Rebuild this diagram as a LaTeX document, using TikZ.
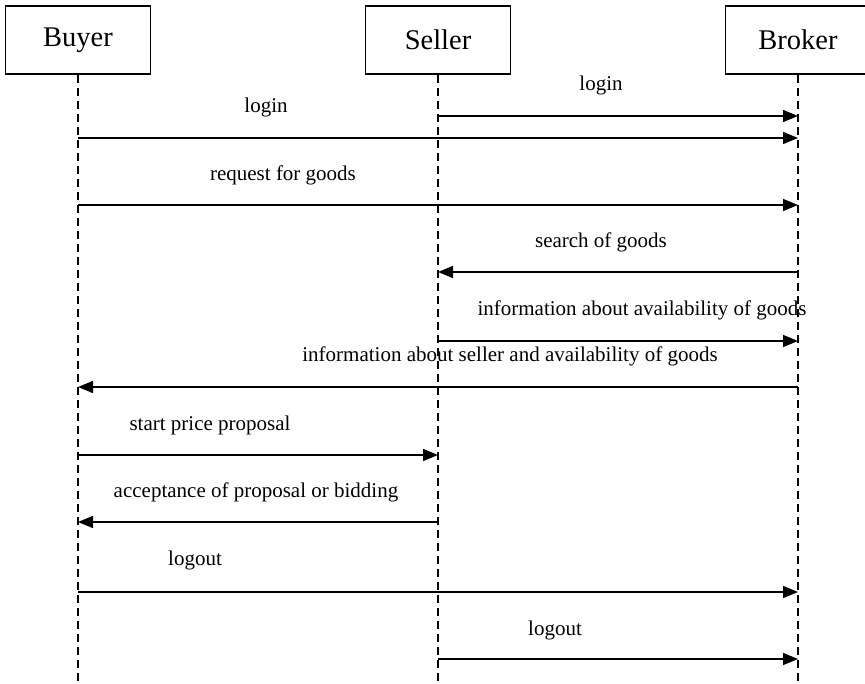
\documentclass[tikz,border=0pt]{standalone}
\usepackage{fontspec}
\setmainfont{Liberation Serif}
\usetikzlibrary{arrows.meta}

\begin{document}
\begin{tikzpicture}[x=1pt,y=-1pt,
  actor/.style={draw,line width=1.2pt,minimum width=145pt,minimum height=68pt,inner sep=0pt,font=\fontsize{28.5}{30}\selectfont},
  life/.style={dash pattern=on 8pt off 5pt,line width=1.1pt},
  msg/.style={-{Triangle[length=15pt,width=12pt]},line width=1.4pt},
  lbl/.style={inner sep=0pt,font=\fontsize{21}{24}\selectfont}]
\useasboundingbox (0,0) rectangle (865,684);
\node[actor] (buyer) at (78,40) {Buyer};
\node[actor] (seller) at (438,40) {Seller};
\node[actor] (broker) at (798,40) {Broker};
\coordinate (bottom) at (0,684);

% lifelines
\draw[life] (buyer.south) -- (buyer.south |- bottom);
\draw[life] (seller.south) -- (seller.south |- bottom);
\draw[life] (broker.south) -- (broker.south |- bottom);

% message rows
\coordinate (r1) at (0,116);
\coordinate (r2) at (0,138);
\coordinate (r3) at (0,205);
\coordinate (r4) at (0,272);
\coordinate (r5) at (0,341);
\coordinate (r6) at (0,387);
\coordinate (r7) at (0,455);
\coordinate (r8) at (0,522);
\coordinate (r9) at (0,592);
\coordinate (r10) at (0,659);

\draw[msg] (seller |- r1) -- (broker |- r1);
\draw[msg] (buyer |- r2) -- (broker |- r2);
\draw[msg] (buyer |- r3) -- (broker |- r3);
\draw[msg] (broker |- r4) -- (seller |- r4);
\draw[msg] (seller |- r5) -- (broker |- r5);
\draw[msg] (broker |- r6) -- (buyer |- r6);
\draw[msg] (buyer |- r7) -- (seller |- r7);
\draw[msg] (seller |- r8) -- (buyer |- r8);
\draw[msg] (buyer |- r9) -- (broker |- r9);
\draw[msg] (seller |- r10) -- (broker |- r10);

% labels
\node[lbl] (l1) at (601,85) {login};
\node[lbl] (l2) at (266,107) {login};
\node[lbl] (l3) at (283,175) {request for goods};
\node[lbl] (l4) at (601,242) {search of goods};
\node[lbl] (l5) at (642,310) {information about availability of goods};
\node[lbl] (l6) at (510,356) {information about seller and availability of goods};
\node[lbl] (l7) at (210,425) {start price proposal};
\node[lbl] (l8) at (256,492) {acceptance of proposal or bidding};
\node[lbl] (l9) at (195,560) {logout};
\node[lbl] (l10) at (555,630) {logout};
\end{tikzpicture}
\end{document}
